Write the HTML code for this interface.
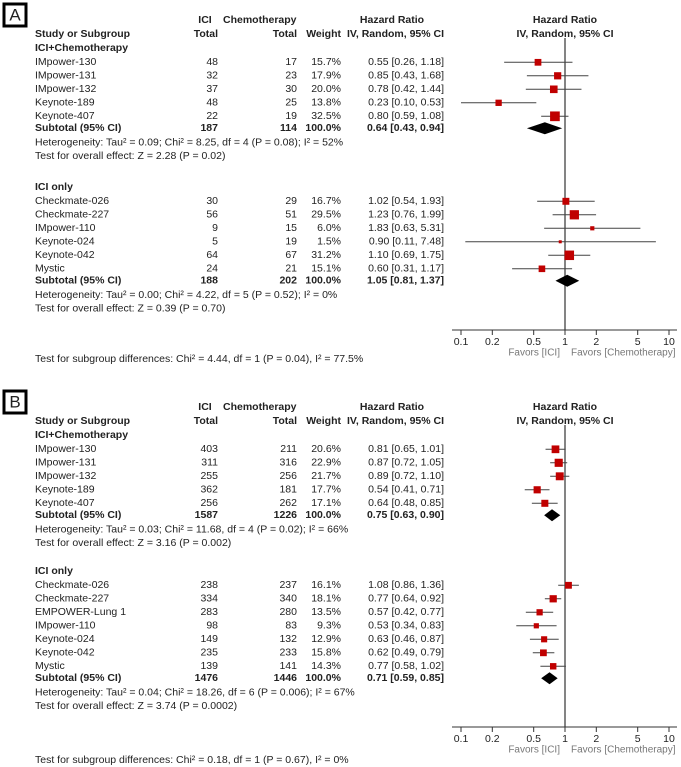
<!DOCTYPE html>
<html><head><meta charset="utf-8"><style>
html,body{margin:0;padding:0;background:#fff;}
svg{display:block;font-family:"Liberation Sans",Arial,sans-serif;}
text{font-size:10.5px;fill:#222;}
.b{font-weight:bold;}
.fav{fill:#777;font-size:10px;}
</style></head><body>
<svg id="chart" width="681" height="767" viewBox="0 0 681 767"></svg>
<script>
// ---- Panel A data ----
const studiesA1 = ["IMpower-130","IMpower-131","IMpower-132","Keynote-189","Keynote-407"];
const iciA1 = [48,32,37,48,22];
const chemoA1 = [17,23,30,25,19];
const weightA1 = [15.7,17.9,20.0,13.8,32.5];
const hrA1 = [0.55,0.85,0.78,0.23,0.80];
const lowA1 = [0.26,0.43,0.42,0.10,0.59];
const highA1 = [1.18,1.68,1.44,0.53,1.08];
const subA1 = [0.64,0.43,0.94];
const studiesA2 = ["Checkmate-026","Checkmate-227","IMpower-110","Keynote-024","Keynote-042","Mystic"];
const iciA2 = [30,56,9,5,64,24];
const chemoA2 = [29,51,15,19,67,21];
const weightA2 = [16.7,29.5,6.0,1.5,31.2,15.1];
const hrA2 = [1.02,1.23,1.83,0.90,1.10,0.60];
const lowA2 = [0.54,0.76,0.63,0.11,0.69,0.31];
const highA2 = [1.93,1.99,5.31,7.48,1.75,1.17];
const subA2 = [1.05,0.81,1.37];
// ---- Panel B data ----
const studiesB1 = ["IMpower-130","IMpower-131","IMpower-132","Keynote-189","Keynote-407"];
const iciB1 = [403,311,255,362,256];
const chemoB1 = [211,316,256,181,262];
const weightB1 = [20.6,22.9,21.7,17.7,17.1];
const hrB1 = [0.81,0.87,0.89,0.54,0.64];
const lowB1 = [0.65,0.72,0.72,0.41,0.48];
const highB1 = [1.01,1.05,1.10,0.71,0.85];
const subB1 = [0.75,0.63,0.90];
const studiesB2 = ["Checkmate-026","Checkmate-227","EMPOWER-Lung 1","IMpower-110","Keynote-024","Keynote-042","Mystic"];
const iciB2 = [238,334,283,98,149,235,139];
const chemoB2 = [237,340,280,83,132,233,141];
const weightB2 = [16.1,18.1,13.5,9.3,12.9,15.8,14.3];
const hrB2 = [1.08,0.77,0.57,0.53,0.63,0.62,0.77];
const lowB2 = [0.86,0.64,0.42,0.34,0.46,0.49,0.58];
const highB2 = [1.36,0.92,0.77,0.83,0.87,0.79,1.02];
const subB2 = [0.71,0.59,0.85];
const tickVals = [0.1,0.2,0.5,1,2,5,10];
const tickLabels = ["0.1","0.2","0.5","1","2","5","10"];

const NS="http://www.w3.org/2000/svg";
const svg=document.getElementById('chart');
function el(tag,attrs,parent){const e=document.createElementNS(NS,tag);for(const k in attrs)e.setAttribute(k,attrs[k]);(parent||svg).appendChild(e);return e;}
function txt(s,x,y,anchor,cls,name){const t=el('text',{x:x,y:y,'text-anchor':anchor||'start','dominant-baseline':'middle'});if(cls)t.setAttribute('class',cls);t.textContent=s;


return t;}
function xs(v){return 461+(Math.log10(v)+1)*104;}
function f2(v){return v.toFixed(2);}

function panel(letter,top,g1,g2,axisY,labelsTop,texts){
  const bx=el('rect',{x:4,y:top,width:22,height:22,fill:'#fff',stroke:'#000','stroke-width':3});
  
  
  txt(letter,15,top+12,'middle',null,'panel-'+letter+'-letter').setAttribute('style','font-size:17px');
  const h1=top+16, h2=h1+14;
  txt('ICI',205,h1,'middle','b','ici-header');
  txt('Chemotherapy',223,h1,'start','b','chemo-header');
  txt('Hazard Ratio',392,h1,'middle','b','hr-header');
  txt('Hazard Ratio',565,h1,'middle','b','plot-hr-header');
  txt('Study or Subgroup',35,h2,'start','b','study-header');
  txt('Total',218,h2,'end','b','ici-total-header');
  txt('Total',297,h2,'end','b','chemo-total-header');
  txt('Weight',341,h2,'end','b','weight-header');
  txt('IV, Random, 95% CI',444,h2,'end','b','ci-header');
  txt('IV, Random, 95% CI',565,h2,'middle','b','plot-ci-header');
  const vl=el('line',{x1:xs(1),x2:xs(1),y1:h2+4,y2:axisY,stroke:'#666','stroke-width':1.6});
  
  
  function group(g,y0,name){
    txt(name,35,y0,'start','b','group-title');
    let y=y0+14.3;
    for(let i=0;i<g.s.length;i++){
      txt(g.s[i],35,y,'start',null,'study-name');
      txt(String(g.ici[i]),218,y,'end',null,'ici-total');
      txt(String(g.ch[i]),297,y,'end',null,'chemo-total');
      txt(g.w[i].toFixed(1)+'%',341,y,'end',null,'weight');
      txt(f2(g.hr[i])+' ['+f2(g.lo[i])+', '+f2(g.hi[i])+']',444,y,'end',null,'hr-ci');
      const ci=el('line',{x1:xs(g.lo[i]),x2:xs(g.hi[i]),y1:y,y2:y,stroke:'#444','stroke-width':1});
      
      
      const sz=Math.max(3,Math.sqrt(g.w[i])*1.7);
      const sq=el('rect',{x:xs(g.hr[i])-sz/2,y:y-sz/2,width:sz,height:sz,fill:'#c00000'});
      
      
      y+=13.5;
    }
    y-=1.5;
    txt('Subtotal (95% CI)',35,y,'start','b','subtotal-label');
    txt(String(g.ici.reduce((a,b)=>a+b,0)),218,y,'end','b','subtotal-ici');
    txt(String(g.ch.reduce((a,b)=>a+b,0)),297,y,'end','b','subtotal-chemo');
    txt('100.0%',341,y,'end','b','subtotal-weight');
    txt(f2(g.sub[0])+' ['+f2(g.sub[1])+', '+f2(g.sub[2])+']',444,y,'end','b','subtotal-hr');
    const d=el('polygon',{points:`${xs(g.sub[1])},${y} ${xs(g.sub[0])},${y-6} ${xs(g.sub[2])},${y} ${xs(g.sub[0])},${y+6}`,fill:'#000'});
    
    
    txt(g.het,35,y+14.5,'start',null,'heterogeneity');
    txt(g.test,35,y+28,'start',null,'overall-effect');
  }
  group(g1,h2+14,'ICI+Chemotherapy');
  group(g2,g1.y2,'ICI only');
  const ax=el('line',{x1:452,x2:677,y1:axisY,y2:axisY,stroke:'#333','stroke-width':1});
  
  
  tickVals.forEach((v,i)=>{
    const t=el('line',{x1:xs(v),x2:xs(v),y1:axisY,y2:axisY+5,stroke:'#333','stroke-width':1});
    
    
    txt(tickLabels[i],xs(v),axisY+12,'middle',null,'x-tick-label');
  });
  txt('Favors [ICI]',560,axisY+23,'end','fav','favors-ici');
  txt('Favors [Chemotherapy]',571,axisY+23,'start','fav','favors-chemo');
  txt(texts.sub,35,texts.subY,'start',null,'subgroup-differences');
}
panel('A',4,
 {s:studiesA1,ici:iciA1,ch:chemoA1,w:weightA1,hr:hrA1,lo:lowA1,hi:highA1,sub:subA1,y2:187,
  het:'Heterogeneity: Tau² = 0.09; Chi² = 8.25, df = 4 (P = 0.08); I² = 52%',test:'Test for overall effect: Z = 2.28 (P = 0.02)'},
 {s:studiesA2,ici:iciA2,ch:chemoA2,w:weightA2,hr:hrA2,lo:lowA2,hi:highA2,sub:subA2,
  het:'Heterogeneity: Tau² = 0.00; Chi² = 4.22, df = 5 (P = 0.52); I² = 0%',test:'Test for overall effect: Z = 0.39 (P = 0.70)'},
 330,0,{sub:'Test for subgroup differences: Chi² = 4.44, df = 1 (P = 0.04), I² = 77.5%',subY:359});
panel('B',391,
 {s:studiesB1,ici:iciB1,ch:chemoB1,w:weightB1,hr:hrB1,lo:lowB1,hi:highB1,sub:subB1,y2:571,
  het:'Heterogeneity: Tau² = 0.03; Chi² = 11.68, df = 4 (P = 0.02); I² = 66%',test:'Test for overall effect: Z = 3.16 (P = 0.002)'},
 {s:studiesB2,ici:iciB2,ch:chemoB2,w:weightB2,hr:hrB2,lo:lowB2,hi:highB2,sub:subB2,
  het:'Heterogeneity: Tau² = 0.04; Chi² = 18.26, df = 6 (P = 0.006); I² = 67%',test:'Test for overall effect: Z = 3.74 (P = 0.0002)'},
 727,0,{sub:'Test for subgroup differences: Chi² = 0.18, df = 1 (P = 0.67), I² = 0%',subY:760});
</script>
</body></html>
